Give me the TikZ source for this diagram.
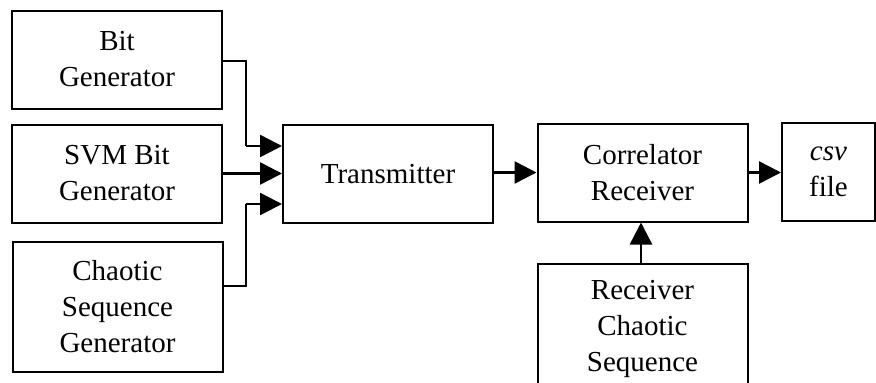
\documentclass[tikz,border=0pt]{standalone}
\usepackage{fontspec}
\setmainfont{Liberation Serif}
\usetikzlibrary{arrows.meta}

\tikzset{
  blockbox/.style={draw,line width=2pt,inner sep=0pt,align=center,
    minimum width=210pt,minimum height=98pt,
    font=\fontsize{29}{36}\selectfont},
  thinline/.style={line width=1.2pt},
  arr/.style={line width=2.5pt,-{Triangle[length=22pt,width=22pt]}}
}

\begin{document}
\begin{tikzpicture}[x=1pt,y=-1pt]
\path[use as bounding box,clip] (0,0) rectangle (876,383);

\node[blockbox] (bitgen) at (117,59.5) {Bit\\Generator};
\node[blockbox] (svmgen) at (117,173.5) {SVM Bit\\Generator};
\node[blockbox,minimum height=130pt] (chaosgen) at (117.5,307) {Chaotic\\Sequence\\Generator};
\node[blockbox] (trans) at (388,174) {Transmitter};
\node[blockbox] (corr) at (642.5,172.5) {Correlator\\Receiver};
\node[blockbox,minimum width=93pt] (csv) at (828.5,171.5) {\textit{csv}\\file};
\node[blockbox,minimum height=130pt,anchor=north] (rxchaos) at (642.5,263)
  {Receiver\\Chaotic\\Sequence};

\coordinate (jbit) at (246,146);
\coordinate (jchaos) at (246,204);

\draw[thinline] ([yshift=-1.5pt]bitgen.east) -| (jbit);
\draw[arr] (jbit) -- (jbit -| trans.west);
\draw[arr] (svmgen.east) -- (svmgen.east -| trans.west);
\draw[thinline] ([yshift=21pt]chaosgen.east) -| (jchaos);
\draw[arr] (jchaos) -- (jchaos -| trans.west);

\draw[arr] (trans.east |- corr) -- (corr.west);
\draw[arr] (corr.east) -- (corr.east -| csv.west);
\draw[arr] (rxchaos.north -| 641,0) -- (corr.south -| 641,0);
\end{tikzpicture}
\end{document}
